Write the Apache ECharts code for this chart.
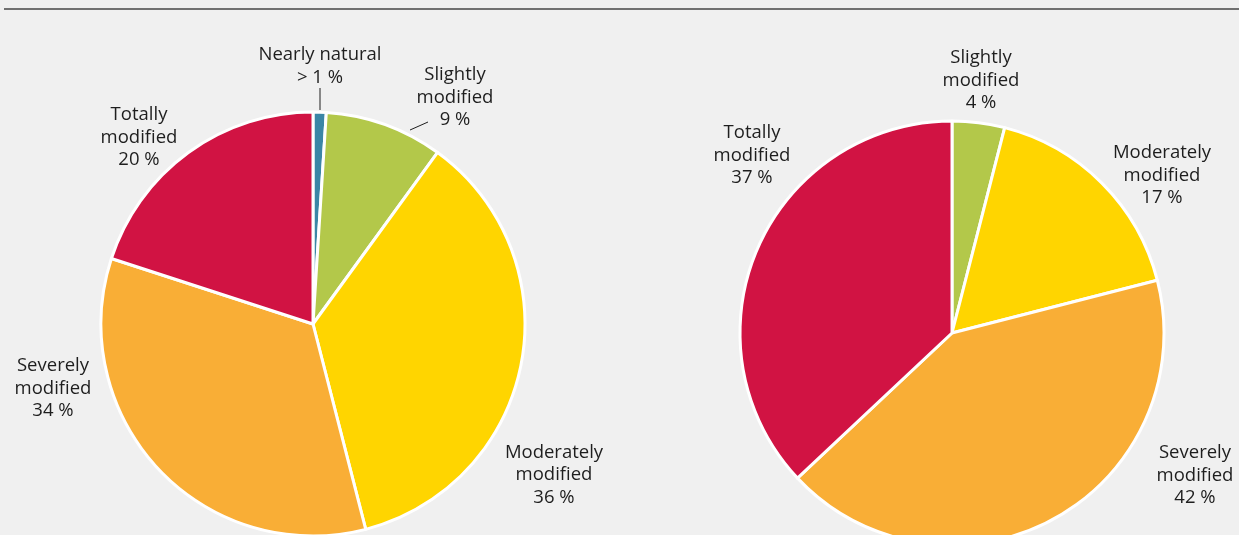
<!DOCTYPE html>
<html>
<head>
<meta charset="utf-8">
<script src="https://cdn.jsdelivr.net/npm/echarts@6/dist/echarts.min.js"></script>
<style>
html,body{margin:0;padding:0;background:#f0f0f0;}
#main{width:1239px;height:535px;}
</style>
</head>
<body>
<div id="main"></div>
<script>
// ---- Data ----
const leftCategories = ['Nearly natural', 'Slightly modified', 'Moderately modified', 'Severely modified', 'Totally modified'];
const leftValues = [1, 9, 36, 34, 20];
const leftValueLabels = ['> 1 %', '9 %', '36 %', '34 %', '20 %'];

const rightCategories = ['Slightly modified', 'Moderately modified', 'Severely modified', 'Totally modified'];
const rightValues = [4, 17, 42, 37];
const rightValueLabels = ['4 %', '17 %', '42 %', '37 %'];

// ---- Styles / layout ----
const categoryColors = {
  'Nearly natural': '#3b86a6',
  'Slightly modified': '#b3c84a',
  'Moderately modified': '#ffd500',
  'Severely modified': '#f9ae36',
  'Totally modified': '#d11343'
};
const labelText = {
  'Nearly natural': 'Nearly natural',
  'Slightly modified': 'Slightly\nmodified',
  'Moderately modified': 'Moderately\nmodified',
  'Severely modified': 'Severely\nmodified',
  'Totally modified': 'Totally\nmodified'
};
const leftLabelPos = [[320, 66], [455, 97.5], [554, 475], [53, 388.5], [139, 137.5]];
const leftLabelLines = {0: [[320, 88], [320, 110]], 1: [[410, 130], [428, 122]]};
const rightLabelPos = [[981, 80.5], [1162, 175.5], [1195, 475.5], [752, 155.5]];

function buildData(cats, vals, valueLabels, lines) {
  return cats.map((c, i) => ({
    name: c,
    value: vals[i],
    itemStyle: { color: categoryColors[c] },
    label: { formatter: labelText[c] + '\n' + valueLabels[i] },
    labelLine: { show: !!(lines && lines[i]) }
  }));
}

const baseSeries = {
  type: 'pie',
  radius: 212,
  startAngle: 90,
  clockwise: true,
  silent: true,
  animation: false,
  avoidLabelOverlap: false,
  itemStyle: { borderColor: '#ffffff', borderWidth: 3 },
  label: {
    show: true,
    position: 'outside',
    fontFamily: 'Open Sans',
    fontSize: 18.5,
    lineHeight: 22.5,
    color: '#1e1e1e',
    align: 'center'
  },
  labelLine: { lineStyle: { color: '#1e1e1e', width: 1 }, length: 10, length2: 10 },
  emphasis: { disabled: true }
};

const chart = echarts.init(document.getElementById('main'), null, { renderer: 'canvas' });
chart.setOption({
  backgroundColor: '#f0f0f0',
  textStyle: { fontFamily: 'Open Sans' },
  graphic: [{
    type: 'line',
    shape: { x1: 4, y1: 9, x2: 1239, y2: 9 },
    style: { stroke: '#707070', lineWidth: 2 },
    silent: true
  }],
  series: [
    Object.assign({}, baseSeries, {
      center: [313, 324],
      data: buildData(leftCategories, leftValues, leftValueLabels, leftLabelLines),
      labelLayout: function (p) {
        const pos = leftLabelPos[p.dataIndex];
        const r = { x: pos[0], y: pos[1], align: 'center', verticalAlign: 'middle' };
        if (leftLabelLines[p.dataIndex]) r.labelLinePoints = leftLabelLines[p.dataIndex];
        return r;
      }
    }),
    Object.assign({}, baseSeries, {
      center: [952, 333],
      data: buildData(rightCategories, rightValues, rightValueLabels, null),
      labelLayout: function (p) {
        const pos = rightLabelPos[p.dataIndex];
        return { x: pos[0], y: pos[1], align: 'center', verticalAlign: 'middle' };
      }
    })
  ]
});
</script>
</body>
</html>
